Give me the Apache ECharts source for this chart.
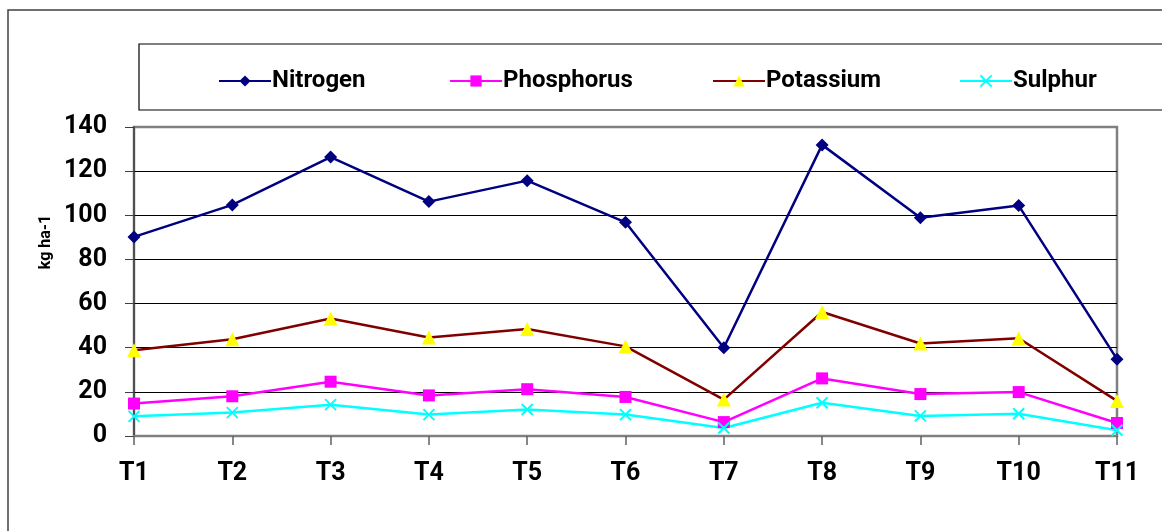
<!DOCTYPE html>
<html>
<head>
<meta charset="utf-8">
<script src="https://cdn.jsdelivr.net/npm/echarts@6/dist/echarts.min.js"></script>
<style>
  html, body { margin: 0; padding: 0; background: #fff; }
  #chart { width: 1162px; height: 531px; }
</style>
</head>
<body>
<div id="chart"></div>
<script>
const treatments = ["T1", "T2", "T3", "T4", "T5", "T6", "T7", "T8", "T9", "T10", "T11"];
const nitrogen = [90.2, 104.7, 126.4, 106.2, 115.7, 96.8, 40.0, 131.9, 98.9, 104.4, 34.8];
const phosphorus = [14.7, 18.0, 24.6, 18.4, 21.2, 17.7, 6.3, 26.1, 19.0, 19.9, 5.9];
const potassium = [38.8, 43.8, 53.2, 44.6, 48.5, 40.6, 16.5, 56.2, 41.9, 44.3, 15.9];
const sulphur = [8.9, 10.6, 14.2, 9.7, 12.0, 9.7, 3.6, 15.1, 9.1, 10.1, 2.6];

const font = "Roboto";
const crossSymbol = "path://M0,0L10,10M10,0L0,10";

// one legend per series so each entry sits where the original had it
const legendSpots = [
  { name: "Nitrogen", left: 213 },
  { name: "Phosphorus", left: 444 },
  { name: "Potassium", left: 707 },
  { name: "Sulphur", left: 954 },
];

let myChart = echarts.init(document.getElementById("chart"));

let option = {
  backgroundColor: "#fff",
  animation: false,
  textStyle: { fontFamily: font },
  // grid border gives the grey frame on the right of the plot
  grid: { left: 134, right: 45, top: 127, bottom: 95, show: true, borderColor: "#808080", borderWidth: 2.5 },
  legend: legendSpots.map((item) => ({
    data: [item.name],
    left: item.left,
    top: 64,
    itemWidth: 52,
    itemHeight: 14,
    itemGap: 0,
    textStyle: { fontFamily: font, fontWeight: "bold", fontSize: 24, color: "#000", padding: [0, 0, 0, -4] },
  })),
  xAxis: {
    type: "category",
    data: treatments,
    boundaryGap: false,
    axisLine: { lineStyle: { color: "#808080", width: 2 } },
    axisTick: { show: true, length: 9, lineStyle: { color: "#606060", width: 1.5 } },
    axisLabel: { fontFamily: font, fontWeight: "bold", fontSize: 25, color: "#000", margin: 25 },
  },
  yAxis: {
    type: "value",
    min: 0,
    max: 140,
    interval: 20,
    axisLine: { show: true, lineStyle: { color: "#404040", width: 1.5 } },
    axisTick: { show: true, length: 9, lineStyle: { color: "#404040", width: 1 } },
    axisLabel: { fontFamily: font, fontWeight: "bold", fontSize: 25, color: "#000", margin: 27 },
    splitLine: {
      lineStyle: {
        color: ["#808080", "#000", "#000", "#000", "#000", "#000", "#000", "#808080"],
        width: 1.2,
      },
    },
  },
  graphic: [
    {
      type: "rect",
      shape: { x: 8, y: 10, width: 1200, height: 600 },
      style: { fill: null, stroke: "#404040", lineWidth: 1.5 },
      silent: true,
    },
    {
      type: "rect",
      shape: { x: 139, y: 44, width: 1100, height: 66 },
      style: { fill: null, stroke: "#000", lineWidth: 1.2 },
      silent: true,
    },
    {
      type: "text",
      x: 46,
      y: 242,
      rotation: Math.PI / 2,
      style: {
        text: "kg ha-1",
        fontFamily: font,
        fontWeight: "bold",
        fontSize: 16,
        fill: "#000",
        align: "center",
        verticalAlign: "middle",
      },
    },
  ],
  series: [
    {
      name: "Nitrogen",
      type: "line",
      data: nitrogen,
      symbol: "diamond",
      symbolSize: 13,
      lineStyle: { color: "#000080", width: 2.5 },
      itemStyle: { color: "#000080" },
    },
    {
      name: "Phosphorus",
      type: "line",
      data: phosphorus,
      symbol: "rect",
      symbolSize: 12,
      lineStyle: { color: "#ff00ff", width: 2.5 },
      itemStyle: { color: "#ff00ff" },
    },
    {
      name: "Potassium",
      type: "line",
      data: potassium,
      symbol: "triangle",
      symbolSize: 14,
      lineStyle: { color: "#800000", width: 2.5 },
      itemStyle: { color: "#ffff00", borderWidth: 0 },
    },
    {
      name: "Sulphur",
      type: "line",
      data: sulphur,
      symbol: crossSymbol,
      symbolSize: 11,
      lineStyle: { color: "#00ffff", width: 2.5 },
      itemStyle: { color: "#00ffff", borderColor: "#00ffff", borderWidth: 2 },
    },
  ],
};

myChart.setOption(option);
</script>
</body>
</html>
